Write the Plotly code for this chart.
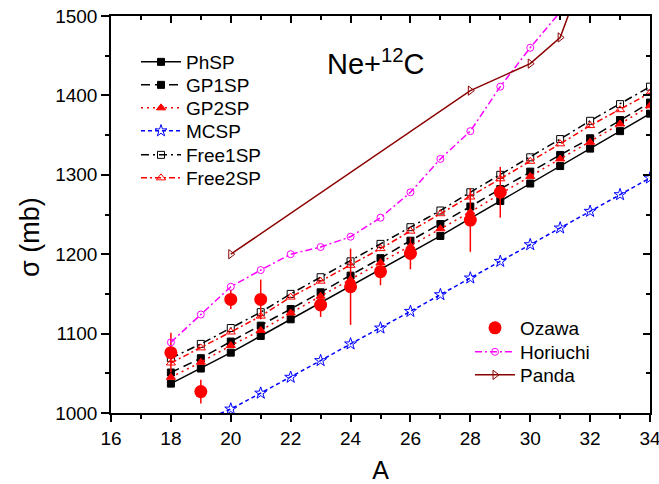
import plotly.graph_objects as go

A = list(range(18, 35))
phsp = [1037, 1056, 1076, 1097, 1118, 1138, 1159, 1180, 1201, 1223, 1245, 1267, 1289, 1311, 1333, 1355, 1377]
gp1sp = [1051, 1069, 1090, 1110, 1131, 1152, 1173, 1195, 1217, 1238, 1260, 1282, 1304, 1325, 1346, 1369, 1391]
gp2sp = [1045, 1064, 1085, 1104, 1126, 1147, 1168, 1189, 1210, 1232, 1253, 1276, 1298, 1320, 1341, 1364, 1387]
free1sp = [1069, 1087, 1107, 1127, 1150, 1171, 1191, 1213, 1234, 1255, 1278, 1300, 1322, 1345, 1368, 1389, 1411]
free2sp = [1063, 1082, 1102, 1122, 1146, 1166, 1186, 1207, 1229, 1251, 1272, 1295, 1317, 1339, 1362, 1382, 1403]

A_mc = list(range(19, 35))
mcsp = [989, 1005, 1025, 1045, 1066, 1087, 1107, 1128, 1149, 1170, 1191, 1212, 1233, 1254, 1275, 1296]

A_hor = list(range(18, 32))
horiuchi = [1089, 1124, 1159, 1180, 1200, 1209, 1222, 1246, 1278, 1320, 1355, 1411, 1460, 1505]

A_pan = [20, 28, 30, 31, 32]
panda = [1200, 1406, 1440, 1473, 1575]

A_oz = [18, 19, 20, 21, 23, 24, 25, 26, 28, 29]
ozawa = [1076, 1027, 1143, 1143, 1136, 1159, 1178, 1201, 1243, 1278]
ozawa_err = [25, 15, 12, 25, 15, 48, 17, 20, 40, 32]

FONT = "Liberation Sans, Arial, sans-serif"

W, H = 659, 484
# plot-area geometry in pixels (for placing legends and labels)
L, R, T, B = 111, 650, 16, 413
def px_x(px):
    return (px - L) / (R - L)
def px_y(py):
    return (B - py) / (B - T)

fig = go.Figure()
legend_layouts = {}
leg_idx = [0]

def next_legend(px_left, py_center):
    leg_idx[0] += 1
    key = "legend" if leg_idx[0] == 1 else f"legend{leg_idx[0]}"
    legend_layouts[key] = dict(
        x=px_x(px_left), y=px_y(py_center), xanchor="left", yanchor="middle",
        bgcolor="rgba(0,0,0,0)", font=dict(size=19, family=FONT, color="black"),
        itemwidth=40, borderwidth=0)
    return key

def model(x, y, name, color, dash, symbol, msize, py):
    fig.add_trace(go.Scatter(
        x=x, y=y, name=name, mode="lines+markers",
        line=dict(color=color, width=1.5, dash=dash),
        marker=dict(symbol=symbol, size=msize, color=color,
                    line=dict(color=color, width=1)),
        legend=next_legend(136, py)))

model(A, phsp, "PhSP", "black", "solid", "square", 7, 62)
model(A, gp1sp, "GP1SP", "black", "9px,5px", "square", 7, 85)
model(A, gp2sp, "GP2SP", "red", "2px,4px", "triangle-up", 8, 108)
model(A_mc, mcsp, "MCSP", "blue", "4px,3px", "star-open", 9, 131)
model(A, free1sp, "Free1SP", "black", "8px,4px,2px,4px", "square-open", 7, 155)
model(A, free2sp, "Free2SP", "red", "6px,3px,2px,3px", "triangle-up-open", 8, 178)

fig.add_trace(go.Scatter(
    x=A_oz, y=ozawa, name="Ozawa", mode="markers",
    marker=dict(symbol="circle", size=13, color="red"),
    error_y=dict(type="data", array=ozawa_err, color="red", thickness=1.5, width=0),
    legend=next_legend(470, 328)))
fig.add_trace(go.Scatter(
    x=A_hor, y=horiuchi, name="Horiuchi", mode="lines+markers",
    line=dict(color="#ff00ff", width=1.5, dash="7px,3px,2px,3px"),
    marker=dict(symbol="circle-open", size=7, color="#ff00ff"),
    legend=next_legend(470, 352)))
fig.add_trace(go.Scatter(
    x=A_pan, y=panda, name="Panda", mode="lines+markers",
    line=dict(color="#8b0000", width=1.5),
    marker=dict(symbol="triangle-right-open", size=8, color="#8b0000"),
    legend=next_legend(470, 375)))

# empty trace so the mirrored top/right axes (inside ticks) are drawn
fig.add_trace(go.Scatter(x=[], y=[], xaxis="x2", yaxis="y2", showlegend=False))

axis_common = dict(showgrid=False, zeroline=False, showline=True, linecolor="black",
                   linewidth=1.5, tickcolor="black", tickwidth=1.5, automargin=False,
                   ticklabeloverflow="allow")

fig.update_layout(
    width=W, height=H, showlegend=True,
    margin=dict(l=L, r=W - R, t=T, b=H - B),
    paper_bgcolor="white", plot_bgcolor="white",
    font=dict(family=FONT, color="black"),
    xaxis=dict(range=[16, 34], dtick=2, tick0=16, ticks="outside", ticklen=7,
               tickfont=dict(size=19, family=FONT),
               title=dict(text="A", font=dict(size=25, family=FONT), standoff=21),
               minor=dict(dtick=1, ticks="outside", ticklen=4, tickcolor="black", tickwidth=1.5),
               **axis_common),
    yaxis=dict(range=[1000, 1500], dtick=100, ticks="outside", ticklen=8,
               tickfont=dict(size=19, family=FONT),
               minor=dict(dtick=50, ticks="outside", ticklen=4, tickcolor="black", tickwidth=1.5),
               **axis_common),
    xaxis2=dict(range=[16, 34], dtick=2, tick0=16, overlaying="x", side="top", anchor="y2",
                ticks="inside", ticklen=7, showticklabels=False,
                minor=dict(dtick=1, ticks="inside", ticklen=4, tickcolor="black", tickwidth=1.5),
                **axis_common),
    yaxis2=dict(range=[1000, 1500], dtick=100, overlaying="y", side="right", anchor="x2",
                ticks="inside", ticklen=7, showticklabels=False,
                minor=dict(dtick=50, ticks="inside", ticklen=4, tickcolor="black", tickwidth=1.5),
                **axis_common),
    annotations=[
        dict(text="Ne+<sup>12</sup>C", x=px_x(376), y=px_y(62), xref="paper", yref="paper",
             xanchor="center", yanchor="middle", showarrow=False,
             font=dict(size=29, family=FONT, color="black")),
        dict(text="σ (mb)", x=px_x(30), y=px_y(237), xref="paper", yref="paper",
             xanchor="center", yanchor="middle", textangle=-90, showarrow=False,
             font=dict(size=27, family=FONT, color="black")),
    ],
    **legend_layouts,
)

# remove the default page margin so the 659x484 figure fills the window exactly
fig.write_html("out.html", config={"displayModeBar": False},
               post_script="document.body.style.margin='0';")
